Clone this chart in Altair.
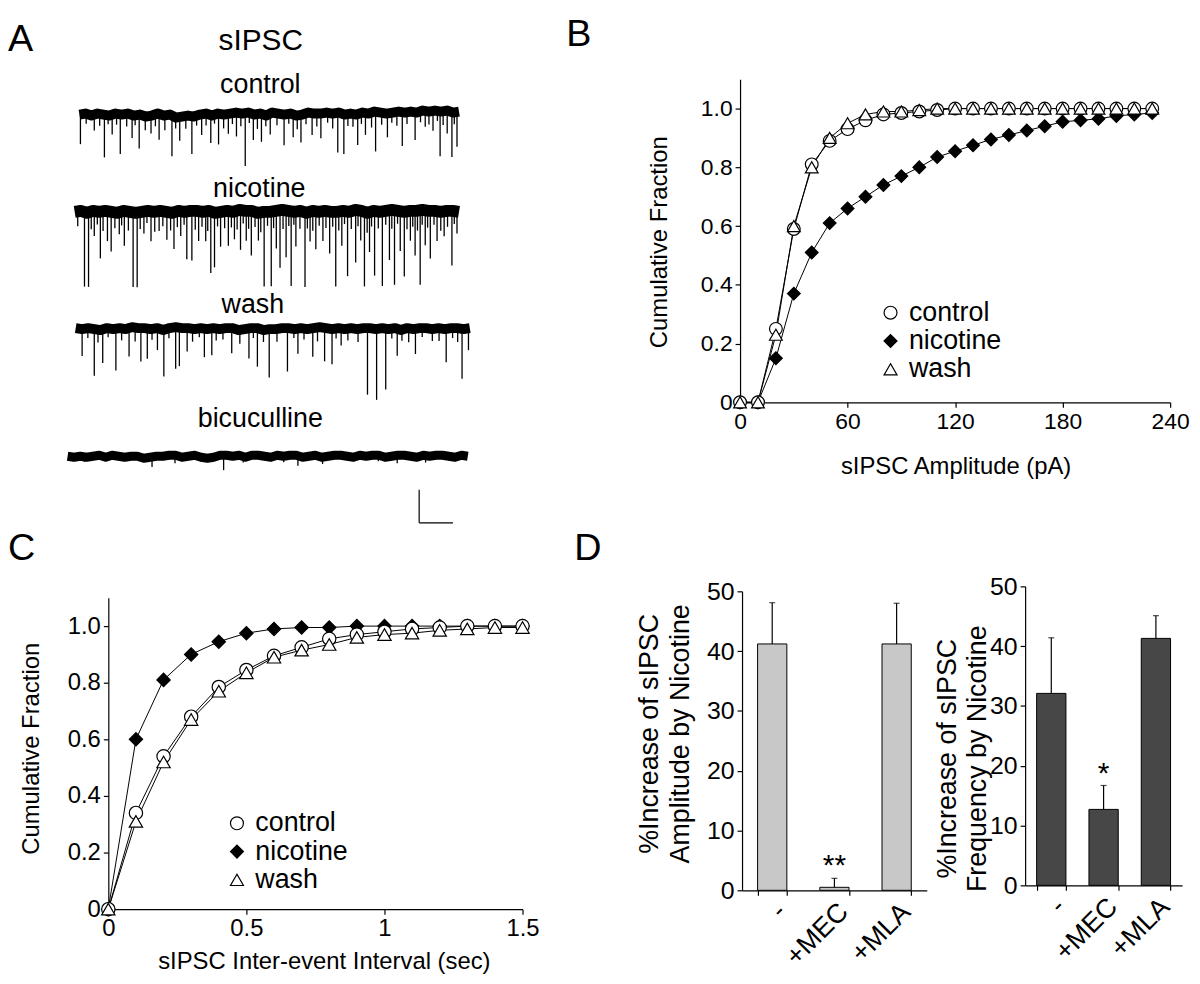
import altair as alt
import numpy as np
import pandas as pd

FONT = "Liberation Sans"
W, H = 1192, 968

# ---------------- Panel A: sIPSC traces (time in s, current in pA) ----------------
TRACES = ["control", "nicotine", "wash", "bicuculline"]
TRACE_START_S = [0.35, 0.21, 0.24, 0.0]
TRACE_END_S = [11.59, 11.59, 11.91, 11.85]

DRIFT_CONTROL = [0, 3, -3, 3, 0, -3, 3, 0, 3, -3, 0, -6, -3, 3, -3, 0, -9, -6, -3, -6, 0, 3, -3, 3,
                 0, 3, 6, 3, 6, 0, 3, -3, 6, 3, 0, 3, -3, 0, 6, 3, 3, 6, 3, 6, 0, 3, 0, 6,
                 3, 9, 6, 3, 6, 9, 6, 9, 6, 12, 9, 12, 9, 12, 6, 9]
DRIFT_NICOTINE = [0, 3, -3, 3, 0, 3, 0, -3, 3, 0, -3, 0, 3, 0, 3, 0, -3, 3, 0, 3, 3, 0, 3, -3,
                  0, 3, 0, 6, 3, 3, -3, 0, 0, 3, 6, 3, 0, 3, -3, 3, 0, 3, 0, 0, 3, 0, 6, 3,
                  -3, 3, 0, 3, 6, 3, 0, 3, 3, 6, 3, 3, 0, 3, 3, 0]
DRIFT_WASH = [3, 0, 3, 0, -3, 3, 0, 3, 0, 6, 3, 3, 0, 3, -3, 3, 6, 3, 3, 0, 3, 0, 3, 0,
              3, 3, -3, 0, 3, 3, -3, 0, 0, 3, 3, 0, 3, 0, 3, 6, 3, 0, 3, 0, 3, 0, 3, 3,
              0, 3, 0, 3, -3, 3, 0, 3, 3, 0, 3, 0, 3, 3, 0, 3]
DRIFT_BICUCULLINE = [0, -3, 0, -3, 0, 3, -3, 3, 0, -3, 0, 0, -6, -3, 0, 0, 3, 3, -3, 0, 3, -3, -6, -3,
                     3, 3, 0, 3, -3, 3, 3, 0, -3, 3, 0, 3, 3, -3, 0, 3, -3, 0, 3, 3, 0, -3, 3, 0,
                     3, 3, -3, 0, 3, 3, 0, -3, 3, 0, 3, 3, 0, -3, 3, 0]

EVT_T_CONTROL = [0.38, 0.79, 1.09, 1.32, 1.56, 1.91, 2.12, 2.47, 2.71, 3.09, 3.32, 3.68, 3.97, 4.24,
                 4.47, 4.76, 5.0, 5.26, 5.5, 5.74, 6.0, 6.41, 6.68, 6.91, 7.24, 7.5, 8.0, 8.18, 8.59,
                 8.82, 9.12, 9.47, 9.91, 10.29, 10.59, 10.82, 11.03, 11.24, 11.38, 11.53,
                 0.55, 0.95, 1.2, 1.45, 1.75, 2.0, 2.3, 2.6, 2.88, 3.2, 3.5, 3.82, 4.1, 4.35, 4.62,
                 4.88, 5.13, 5.38, 5.62, 5.87, 6.2, 6.55, 6.8, 7.06, 7.38, 7.7, 7.85, 8.3, 8.45, 8.7,
                 9.0, 9.3, 9.6, 9.75, 10.05, 10.45, 10.7, 10.95, 11.12, 11.45]
EVT_PA_CONTROL = [90, 48, 129, 60, 120, 69, 102, 54, 78, 123, 72, 114, 63, 84, 93, 60, 72, 160, 78, 84,
                  63, 93, 69, 84, 66, 75, 120, 120, 93, 66, 120, 72, 102, 84, 48, 60, 135, 69, 135, 105,
                  30, 36, 27, 33, 39, 30, 42, 36, 45, 33, 39, 30, 36, 27, 42, 33, 39, 30, 45, 33,
                  36, 30, 42, 33, 39, 30, 45, 36, 39, 33, 45, 36, 30, 42, 36, 33, 39, 30, 42, 36]
EVT_T_NICOTINE = [0.5, 0.62, 0.79, 0.97, 1.18, 1.29, 1.53, 1.68, 1.94, 2.06, 2.26, 2.47, 2.71, 2.94,
                  3.15, 3.35, 3.53, 3.68, 3.88, 4.09, 4.24, 4.35, 4.53, 4.76, 4.94, 5.12, 5.29, 5.44,
                  5.65, 5.82, 6.03, 6.18, 6.29, 6.47, 6.62, 6.76, 7.03, 7.18, 7.35, 7.56, 7.76, 7.94,
                  8.12, 8.29, 8.53, 8.68, 8.79, 8.94, 9.09, 9.32, 9.53, 9.68, 9.85, 9.97, 10.15, 10.29,
                  10.44, 10.59, 10.74, 10.94, 11.15, 11.38, 11.53,
                  0.3, 0.7, 0.88, 1.05, 1.4, 1.6, 1.8, 2.15, 2.35, 2.58, 2.82, 3.05, 3.25, 3.45, 3.78,
                  3.98, 4.15, 4.44, 4.65, 4.85, 5.02, 5.2, 5.36, 5.55, 5.72, 5.92, 6.1, 6.38, 6.55, 6.7,
                  6.88, 7.1, 7.26, 7.45, 7.65, 7.85, 8.03, 8.2, 8.4, 8.6, 8.87, 9.0, 9.2, 9.42, 9.6,
                  9.77, 10.05, 10.22, 10.36, 10.5, 10.66, 10.85, 11.05, 11.25, 11.45]
EVT_PA_NICOTINE = [225, 225, 75, 141, 90, 120, 66, 105, 225, 225, 66, 90, 60, 84, 111, 75, 144, 150, 90, 90,
                   186, 165, 105, 105, 84, 120, 90, 135, 84, 225, 225, 114, 174, 141, 225, 105, 225, 90,
                   114, 90, 126, 225, 105, 195, 159, 90, 225, 120, 195, 225, 150, 225, 120, 195, 90, 135,
                   225, 105, 144, 90, 75, 165, 66,
                   45, 54, 39, 60, 48, 42, 57, 51, 36, 60, 45, 54, 48, 39, 57, 45, 60, 42, 51, 48,
                   57, 39, 54, 45, 60, 42, 51, 57, 45, 39, 54, 48, 60, 42, 51, 45, 57, 39, 54, 48,
                   60, 45, 51, 42, 57, 39, 54, 48, 60, 45, 51, 42, 57, 48, 39]
EVT_T_WASH = [0.43, 0.79, 1.04, 1.43, 1.82, 2.17, 2.36, 2.66, 2.85, 3.2, 3.31, 3.54, 4.05, 4.27, 4.86,
              5.37, 5.62, 5.97, 6.51, 6.82, 7.26, 7.61, 7.83, 8.1, 8.88, 9.15, 9.42, 9.76, 10.3, 11.21,
              11.68, 11.87,
              0.6, 0.9, 1.2, 1.6, 2.0, 2.5, 3.0, 3.7, 3.9, 4.4, 4.6, 5.1, 5.5, 5.8, 6.2, 6.7, 7.0,
              7.4, 7.95, 8.3, 8.6, 9.6, 9.9, 10.1, 10.5, 10.8, 11.0, 11.4, 11.55]
EVT_PA_WASH = [81, 141, 101, 126, 86, 101, 91, 66, 141, 126, 116, 71, 86, 81, 76, 91, 116, 146, 131, 76,
               86, 101, 106, 51, 201, 214, 184, 81, 76, 101, 151, 66,
               30, 39, 27, 36, 42, 33, 30, 39, 27, 36, 33, 42, 30, 36, 39, 27, 33, 42, 30, 36,
               39, 30, 33, 42, 27, 36, 39, 30, 42]
EVT_T_BICUCULLINE = [0.5, 1.2, 2.5, 3.18, 3.9, 4.62, 5.2, 5.9, 6.4, 6.82, 7.55, 8.3, 9.2, 9.76, 10.6, 11.3]
EVT_PA_BICUCULLINE = [15, 12, 30, 24, 12, 45, 18, 12, 18, 30, 21, 12, 18, 24, 21, 12]

SCALEBAR_S = 1.0
SCALEBAR_PA = 100.0

# ---------------- Panel B: cumulative amplitude ----------------
SERIES = ["control", "nicotine", "wash"]
AMP_PA = [0, 10, 20, 30, 40, 50, 60, 70, 80, 90, 100, 110, 120, 130, 140, 150, 160, 170, 180, 190,
          200, 210, 220, 230]
B_CONTROL = [0, 0, 0.25, 0.59, 0.81, 0.89, 0.93, 0.96, 0.98, 0.985, 0.99, 0.995, 1.0, 1.0, 1.0, 1.0,
             1.0, 1.0, 1.0, 1.0, 1.0, 1.0, 1.0, 1.0]
B_NICOTINE = [0, 0, 0.15, 0.37, 0.51, 0.61, 0.66, 0.70, 0.74, 0.77, 0.80, 0.835, 0.855, 0.875, 0.895,
              0.91, 0.925, 0.94, 0.955, 0.96, 0.965, 0.975, 0.98, 0.985]
B_WASH = [0, 0, 0.23, 0.60, 0.80, 0.90, 0.95, 0.98, 0.99, 0.99, 0.995, 1.0, 1.0, 1.0, 1.0, 1.0,
          1.0, 1.0, 1.0, 1.0, 1.0, 1.0, 1.0, 1.0]

# ---------------- Panel C: cumulative inter-event interval ----------------
IEI_S = [0.0, 0.1, 0.2, 0.3, 0.4, 0.5, 0.6, 0.7, 0.8, 0.9, 1.0, 1.1, 1.2, 1.3, 1.4, 1.5]
C_CONTROL = [0, 0.34, 0.54, 0.68, 0.785, 0.845, 0.895, 0.925, 0.955, 0.97, 0.98, 0.99, 0.995, 1.0, 1.0, 1.0]
C_NICOTINE = [0, 0.60, 0.81, 0.90, 0.945, 0.975, 0.99, 0.995, 0.995, 1.0, 1.0, 1.0, 1.0, 1.0, 1.0, 1.0]
C_WASH = [0, 0.31, 0.52, 0.67, 0.77, 0.835, 0.89, 0.915, 0.935, 0.96, 0.97, 0.975, 0.985, 0.99, 0.995, 0.995]

# ---------------- Panel D: % increase by nicotine ----------------
CONDS = ["-", "+MEC", "+MLA"]
AMP_MEAN = [41.2, 0.5, 41.2]
AMP_SEM = [6.9, 1.5, 6.8]
AMP_SIG = ["", "**", ""]
FREQ_MEAN = [32.1, 12.7, 41.3]
FREQ_SEM = [9.3, 4.0, 3.8]
FREQ_SIG = ["", "*", ""]

# ---------------- layout (pixels inside the drawing area) ----------------
A_XR, A_YR = [60, 468], [0, 530]
A_TDOM, A_IDOM = [0, 12], [0, -1590]
A_BASE = [-312, -606, -960, -1344]
A_WIDTH = [10, 12, 10, 9]
SB_T0, SB_Y0 = 10.41, -1545

B_XR, B_YR = [737, 1170], [393.7, 68.4]
C_XR, C_YR = [101, 518], [904, 590.5]
DL_XR, DL_YR = [739, 925], [885, 584]
DR_XR, DR_YR = [1024, 1182], [880, 579]


def ax(**kw):
    base = dict(domainColor="black", tickColor="black", labelColor="black", titleColor="black",
                labelFont=FONT, titleFont=FONT, grid=False, domainWidth=1.2, tickWidth=1.2,
                tickSize=5, titleFontWeight="normal", labelFlush=False, labelOverlap=False)
    base.update(kw)
    return alt.Axis(**base)


def text_note(txt, x, y, size, align="center"):
    return alt.Chart(pd.DataFrame({"s": [txt]})).mark_text(
        fontSize=size, font=FONT, align=align, baseline="alphabetic", color="black"
    ).encode(text="s:N", x=alt.value(x), y=alt.value(y))


layers = []

# ---- Panel A ----
xa = alt.Scale(domain=A_TDOM, range=A_XR, nice=False, zero=False)
ya = alt.Scale(domain=A_IDOM, range=A_YR, nice=False, zero=False)
drifts = [DRIFT_CONTROL, DRIFT_NICOTINE, DRIFT_WASH, DRIFT_BICUCULLINE]
evt_t = [EVT_T_CONTROL, EVT_T_NICOTINE, EVT_T_WASH, EVT_T_BICUCULLINE]
evt_a = [EVT_PA_CONTROL, EVT_PA_NICOTINE, EVT_PA_WASH, EVT_PA_BICUCULLINE]
for i, name in enumerate(TRACES):
    d = np.array(drifts[i], dtype=float)
    t = np.linspace(TRACE_START_S[i], TRACE_END_S[i], len(d))
    base_df = pd.DataFrame({"t": t, "i": A_BASE[i] + d})
    layers.append(alt.Chart(base_df).mark_line(color="black", strokeWidth=A_WIDTH[i],
                                               strokeJoin="round").encode(
        x=alt.X("t:Q", scale=xa, axis=None), y=alt.Y("i:Q", scale=ya, axis=None)))
    et = np.array(evt_t[i], dtype=float)
    ea = np.array(evt_a[i], dtype=float)
    y0 = A_BASE[i] + np.interp(et, t, d)
    ev_df = pd.DataFrame({"t": et, "i0": y0, "i1": y0 - ea})
    layers.append(alt.Chart(ev_df).mark_rule(color="black", strokeWidth=1.3).encode(
        x=alt.X("t:Q", scale=xa, axis=None), y=alt.Y("i0:Q", scale=ya, axis=None), y2="i1:Q"))

sb_df = pd.DataFrame({"t0": [SB_T0, SB_T0], "t1": [SB_T0, SB_T0 + SCALEBAR_S],
                      "i0": [SB_Y0, SB_Y0], "i1": [SB_Y0 + SCALEBAR_PA, SB_Y0]})
layers.append(alt.Chart(sb_df).mark_rule(color="black", strokeWidth=1.2).encode(
    x=alt.X("t0:Q", scale=xa, axis=None), x2="t1:Q",
    y=alt.Y("i0:Q", scale=ya, axis=None), y2="i1:Q"))

layers += [
    text_note("A", 0, 40, 38, "left"),
    text_note("sIPSC", 254.5, 39, 30),
    text_note("control", 254, 82, 27),
    text_note("nicotine", 253, 187, 27),
    text_note("wash", 246.5, 304, 27),
    text_note("bicuculline", 254, 419, 27),
    text_note("B", 562, 35, 38, "left"),
    text_note("C", 0, 552, 38, "left"),
    text_note("D", 570, 552, 38, "left"),
]

# ---- shared series styling ----
DRAW_ORDER = ["nicotine", "control", "wash"]
shape_scale = dict(domain=SERIES, range=["circle", "diamond", "triangle-up"])
fill_scale = dict(domain=SERIES, range=["white", "black", "white"])
stroke_scale = dict(domain=SERIES, range=["black", "black", "black"])


def legend(x, y):
    return alt.Legend(orient="none", legendX=x, legendY=y, title=None, labelFont=FONT,
                      labelFontSize=27, labelColor="black", symbolStrokeColor="black",
                      symbolStrokeWidth=1.2, symbolSize=170, rowPadding=0.5, labelOffset=5,
                      padding=0, symbolOpacity=1)


def long_df(xs, data):
    rows = []
    for s in DRAW_ORDER:
        for xv, yv in zip(xs, data[s]):
            rows.append({"series": s, "x": xv, "y": yv})
    return pd.DataFrame(rows)


def cum_panel(df, xr, yr, xdom, xvals, xfmt, xtitle, xtitle_pos, ytitle_pos, xoff, yoff,
              leg_xy, lab_size, psize):
    xs = alt.Scale(domain=xdom, range=xr, nice=False, zero=False)
    ys = alt.Scale(domain=[0, 1.1], range=yr, nice=False, zero=False)
    x_axis = ax(orient="bottom", offset=xoff, values=xvals, format=xfmt, labelFontSize=lab_size,
                labelPadding=3, title=xtitle, titleFontSize=24, titleX=xtitle_pos[0],
                titleY=xtitle_pos[1], titleAlign="center", titleBaseline="middle", titleAngle=0)
    y_axis = ax(orient="left", offset=yoff, values=[0, 0.2, 0.4, 0.6, 0.8, 1.0],
                labelExpr="datum.value == 0 ? '0' : format(datum.value, '.1f')",
                labelFontSize=lab_size, labelPadding=3, title="Cumulative Fraction",
                titleFontSize=24, titleX=ytitle_pos[0], titleY=ytitle_pos[1], titleAngle=-90,
                titleAlign="center", titleBaseline="middle")
    line = alt.Chart(df).mark_line(color="black", strokeWidth=1).encode(
        x=alt.X("x:Q", scale=xs, axis=x_axis), y=alt.Y("y:Q", scale=ys, axis=y_axis),
        detail="series:N")
    pts = alt.Chart(df).mark_point(filled=True, strokeWidth=1.2, opacity=1, size=psize).encode(
        x=alt.X("x:Q", scale=xs, axis=None), y=alt.Y("y:Q", scale=ys, axis=None),
        shape=alt.Shape("series:N", scale=alt.Scale(**shape_scale), legend=legend(*leg_xy)),
        fill=alt.Fill("series:N", scale=alt.Scale(**fill_scale), legend=legend(*leg_xy)),
        stroke=alt.Stroke("series:N", scale=alt.Scale(**stroke_scale), legend=legend(*leg_xy)))
    return [line, pts]


b_df = long_df(AMP_PA, {"control": B_CONTROL, "nicotine": B_NICOTINE, "wash": B_WASH})
layers += cum_panel(b_df, B_XR, B_YR, [0, 240], [0, 60, 120, 180, 240], "d",
                    "sIPSC Amplitude (pA)", (954, 65), (-81, 232),
                    B_YR[0] - H, -B_XR[0], (875, 290), 23, 165)

c_df = long_df(IEI_S, {"control": C_CONTROL, "nicotine": C_NICOTINE, "wash": C_WASH})
layers += cum_panel(c_df, C_XR, C_YR, [0, 1.5], [0, 0.5, 1, 1.5], "~g",
                    "sIPSC Inter-event Interval (sec)", (318, 53), (-77, 742),
                    C_YR[0] - H, -C_XR[0], (217, 804), 24, 180)


# ---- Panel D ----
def bar_panel(mean, sem, sig, xr, yr, fill, pin, pout, ytitle, ytitle_pos):
    df = pd.DataFrame({"cond": CONDS, "mean": mean, "sem": sem, "sig": sig})
    df["top"] = df["mean"] + df["sem"]
    xs = alt.Scale(domain=CONDS, range=xr, paddingInner=pin, paddingOuter=pout)
    ys = alt.Scale(domain=[0, 50], range=yr, nice=False, zero=False)
    x_axis = ax(orient="bottom", offset=yr[0] - H, title=None, labelAngle=-45, labelAlign="right",
                labelBaseline="top", labelFontSize=27, labelPadding=3, tickBand="extent")
    y_axis = ax(orient="left", offset=-xr[0], values=[0, 10, 20, 30, 40, 50], labelFontSize=25,
                labelPadding=3, title=ytitle, titleFontSize=27, titleLineHeight=31,
                titleX=ytitle_pos[0], titleY=ytitle_pos[1], titleAngle=-90, titleAlign="center",
                titleBaseline="middle")
    bars = alt.Chart(df).mark_bar(fill=fill, stroke="black", strokeWidth=1).encode(
        x=alt.X("cond:N", scale=xs, sort=None, axis=x_axis),
        y=alt.Y("mean:Q", scale=ys, axis=y_axis))
    err = alt.Chart(df).mark_rule(color="black", strokeWidth=1.2).encode(
        x=alt.X("cond:N", scale=xs, sort=None, axis=None),
        y=alt.Y("mean:Q", scale=ys, axis=None), y2="top:Q")
    cap = alt.Chart(df).mark_tick(color="black", thickness=1.2, size=6, orient="horizontal").encode(
        x=alt.X("cond:N", scale=xs, sort=None, axis=None),
        y=alt.Y("top:Q", scale=ys, axis=None))
    star = alt.Chart(df).mark_text(fontSize=30, font=FONT, baseline="alphabetic", dy=-3,
                                   color="black").encode(
        x=alt.X("cond:N", scale=xs, sort=None, axis=None),
        y=alt.Y("top:Q", scale=ys, axis=None), text="sig:N")
    return [bars, err, cap, star]


layers += bar_panel(AMP_MEAN, AMP_SEM, AMP_SIG, DL_XR, DL_YR, "#c8c8c8", 0.53, 0.25,
                    ["%Increase of sIPSC", "Amplitude by Nicotine"], (-93, 727))
layers += bar_panel(FREQ_MEAN, FREQ_SEM, FREQ_SIG, DR_XR, DR_YR, "#474747", 0.44, 0.22,
                    ["%Increase of sIPSC", "Frequency by Nicotine"], (-78.5, 752))

chart = alt.layer(*layers).resolve_scale(
    x="independent", y="independent", shape="independent", fill="independent",
    stroke="independent"
).resolve_axis(
    x="independent", y="independent"
).resolve_legend(
    shape="independent", fill="independent", stroke="independent"
).properties(
    width=W, height=H, padding=0, autosize=alt.AutoSizeParams(type="none")
).configure(
    font=FONT, background="white"
).configure_view(stroke=None)

chart.save("out.html", embed_options={"renderer": "svg", "actions": False})
